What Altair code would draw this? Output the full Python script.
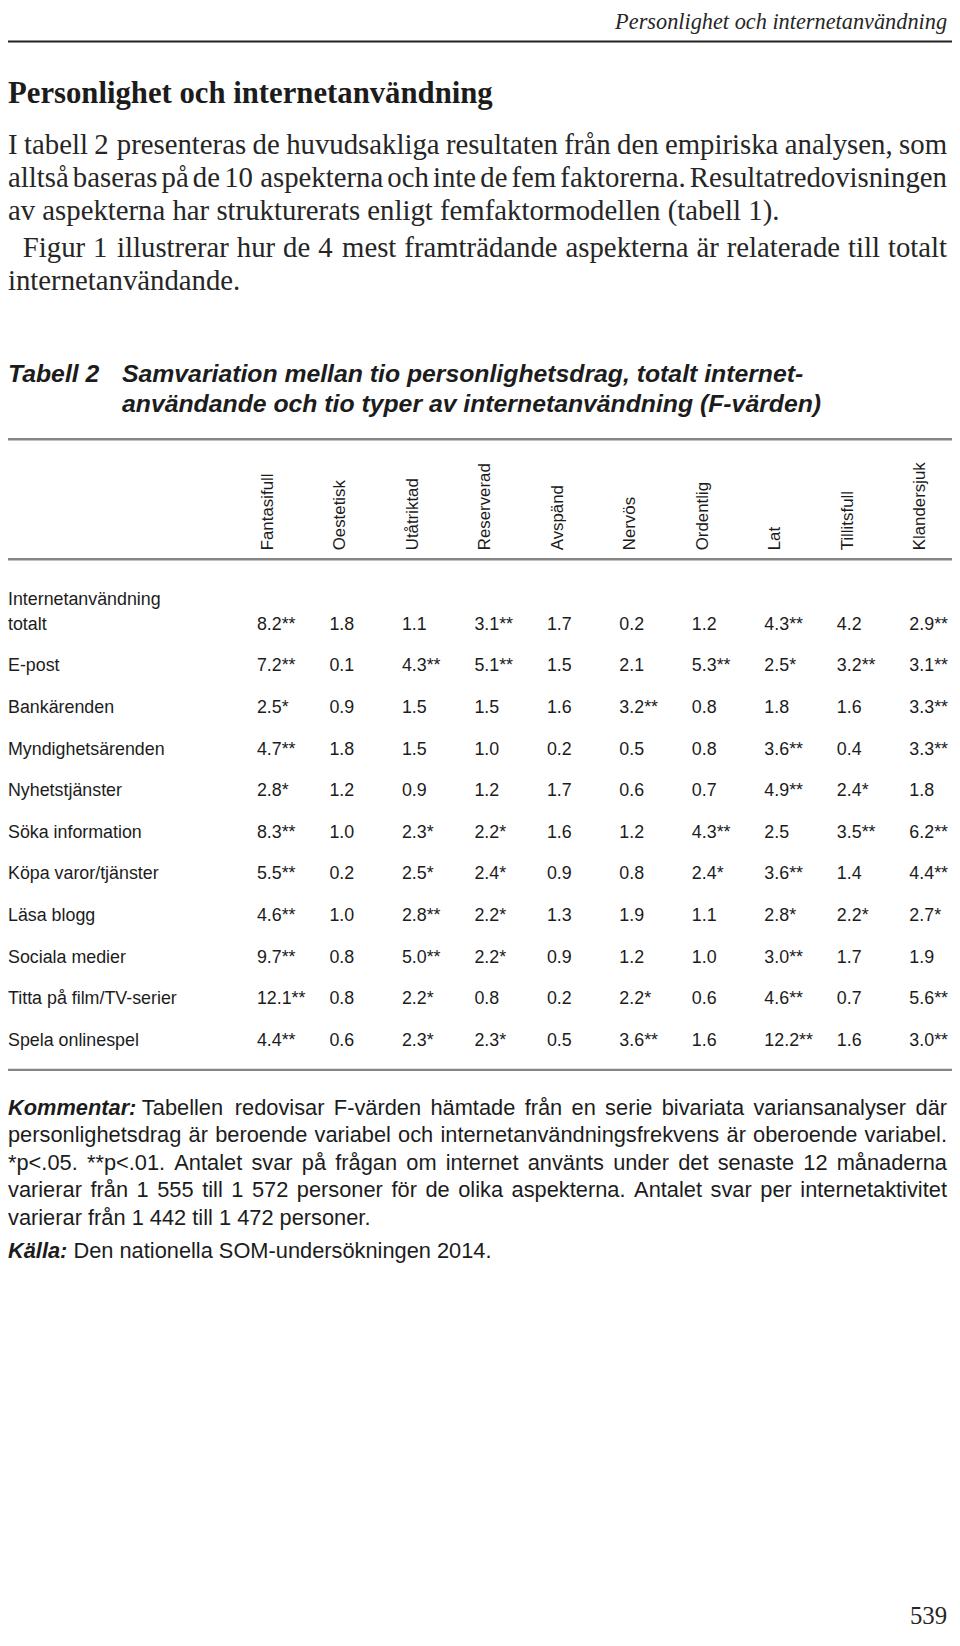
import altair as alt
import pandas as pd

# ------------------------------------------------------------------ data
running_head = "Personlighet och internetanvändning"
section_title = "Personlighet och internetanvändning"
body_lines = [
    "I tabell 2 presenteras de huvudsakliga resultaten från den empiriska analysen, som",
    "alltså baseras på de 10 aspekterna och inte de fem faktorerna. Resultatredovisningen",
    "av aspekterna har strukturerats enligt femfaktormodellen (tabell 1).",
    "Figur 1 illustrerar hur de 4 mest framträdande aspekterna är relaterade till totalt",
    "internetanvändande.",
]
table_label = ["Tabell 2"]
table_title = [
    "Samvariation mellan tio personlighetsdrag, totalt internet-",
    "användande och tio typer av internetanvändning (F-värden)",
]
traits = ["Fantasifull", "Oestetisk", "Utåtriktad", "Reserverad", "Avspänd",
          "Nervös", "Ordentlig", "Lat", "Tillitsfull", "Klandersjuk"]
usage_group = "Internetanvändning"
usages = ["totalt", "E-post", "Bankärenden", "Myndighetsärenden", "Nyhetstjänster",
          "Söka information", "Köpa varor/tjänster", "Läsa blogg", "Sociala medier",
          "Titta på film/TV-serier", "Spela onlinespel"]
# F-values, one list per internet use (columns follow `traits`)
f_values = [
    [8.2, 1.8, 1.1, 3.1, 1.7, 0.2, 1.2, 4.3, 4.2, 2.9],
    [7.2, 0.1, 4.3, 5.1, 1.5, 2.1, 5.3, 2.5, 3.2, 3.1],
    [2.5, 0.9, 1.5, 1.5, 1.6, 3.2, 0.8, 1.8, 1.6, 3.3],
    [4.7, 1.8, 1.5, 1.0, 0.2, 0.5, 0.8, 3.6, 0.4, 3.3],
    [2.8, 1.2, 0.9, 1.2, 1.7, 0.6, 0.7, 4.9, 2.4, 1.8],
    [8.3, 1.0, 2.3, 2.2, 1.6, 1.2, 4.3, 2.5, 3.5, 6.2],
    [5.5, 0.2, 2.5, 2.4, 0.9, 0.8, 2.4, 3.6, 1.4, 4.4],
    [4.6, 1.0, 2.8, 2.2, 1.3, 1.9, 1.1, 2.8, 2.2, 2.7],
    [9.7, 0.8, 5.0, 2.2, 0.9, 1.2, 1.0, 3.0, 1.7, 1.9],
    [12.1, 0.8, 2.2, 0.8, 0.2, 2.2, 0.6, 4.6, 0.7, 5.6],
    [4.4, 0.6, 2.3, 2.3, 0.5, 3.6, 1.6, 12.2, 1.6, 3.0],
]
# significance level: 0 = n.s., 1 = p<.05 (*), 2 = p<.01 (**)
significance = [
    [2, 0, 0, 2, 0, 0, 0, 2, 0, 2],
    [2, 0, 2, 2, 0, 0, 2, 1, 2, 2],
    [1, 0, 0, 0, 0, 2, 0, 0, 0, 2],
    [2, 0, 0, 0, 0, 0, 0, 2, 0, 2],
    [1, 0, 0, 0, 0, 0, 0, 2, 1, 0],
    [2, 0, 1, 1, 0, 0, 2, 0, 2, 2],
    [2, 0, 1, 1, 0, 0, 1, 2, 0, 2],
    [2, 0, 2, 1, 0, 0, 0, 1, 1, 1],
    [2, 0, 2, 1, 0, 0, 0, 2, 0, 0],
    [2, 0, 1, 0, 0, 1, 0, 2, 0, 2],
    [2, 0, 1, 1, 0, 2, 0, 2, 0, 2],
]
comment_lead = ["Kommentar:"]
comment_lines = [
    "Tabellen redovisar F-värden hämtade från en serie bivariata variansanalyser där",
    "personlighetsdrag är beroende variabel och internetanvändningsfrekvens är oberoende variabel.",
    "*p<.05. **p<.01. Antalet svar på frågan om internet använts under det senaste 12 månaderna",
    "varierar från 1 555 till 1 572 personer för de olika aspekterna. Antalet svar per internetaktivitet",
    "varierar från 1 442 till 1 472 personer.",
]
source_lead = ["Källa:"]
source_text = ["Den nationella SOM-undersökningen 2014."]
page_number = ["539"]

# ------------------------------------------------------------------ layout
W, H = 952, 1624
RIGHT = 947            # right margin of the text column
INK = "#1c1c1c"
BODY_INK = "#262626"
GRAY = "#858585"
SERIF = "Liberation Serif"
SANS = "Liberation Sans"

# advance widths (per em) of the metric-compatible Liberation fonts, used to justify prose
SERIF_W = {" ": .25, "a": .444, "b": .5, "c": .444, "d": .5, "e": .444, "f": .333, "g": .5,
           "h": .5, "i": .278, "j": .278, "k": .5, "l": .278, "m": .778, "n": .5, "o": .5,
           "p": .5, "q": .5, "r": .333, "s": .389, "t": .278, "u": .5, "v": .5, "w": .722,
           "x": .5, "y": .5, "z": .444, "å": .444, "ä": .444, "ö": .5, "I": .333, "F": .556,
           "R": .667, "T": .611, ".": .25, ",": .25, "(": .333, ")": .333, "-": .333}
SANS_W = {" ": .278, "a": .556, "b": .556, "c": .5, "d": .556, "e": .556, "f": .278, "g": .556,
          "h": .556, "i": .222, "j": .222, "k": .5, "l": .222, "m": .833, "n": .556, "o": .556,
          "p": .556, "q": .556, "r": .333, "s": .5, "t": .278, "u": .556, "v": .5, "w": .722,
          "x": .5, "y": .5, "z": .5, "å": .556, "ä": .556, "ö": .556, "A": .667, "F": .611,
          "K": .667, "S": .667, "O": .778, "M": .833, "T": .611, ".": .278, ",": .278,
          "*": .389, "<": .584, "-": .333, ":": .278, "/": .278}


def word_width(word, table, size):
    return sum(table.get(ch, .556 if ch.isdigit() else .5) for ch in word) * size


def justify(lines, table, size, lefts, justified):
    """Split lines into words and spread the words of justified lines to RIGHT."""
    recs = []
    for i, (line, left, just) in enumerate(zip(lines, lefts, justified)):
        words = line.split(" ")
        ww = [word_width(w, table, size) for w in words]
        if just and len(words) > 1:
            gap = (RIGHT - left - sum(ww)) / (len(words) - 1)
        else:
            gap = table[" "] * size
        x = left
        for w, wdt in zip(words, ww):
            recs.append({"i": i, "x": x, "t": w})
            x += wdt + gap
    return pd.DataFrame(recs)


def words_block(df, y0, step, color=INK, **mark):
    n = int(df["i"].max()) + 1
    span = max(n - 1, 1)
    return alt.Chart(df).mark_text(
        align="left", baseline="alphabetic", color=color, **mark
    ).encode(
        x=alt.X("x:Q", scale=None, axis=None),
        y=alt.Y("i:Q", axis=None,
                scale=alt.Scale(domain=[0, span], range=[y0, y0 + step * span],
                                nice=False, zero=False)),
        text="t:N",
    )


def text_block(lines, x, y0, step, color=INK, **mark):
    n = len(lines)
    span = max(n - 1, 1)
    df = pd.DataFrame({"i": list(range(n)), "t": lines})
    align = mark.pop("align", "left")
    return alt.Chart(df).mark_text(
        align=align, baseline="alphabetic", color=color, **mark
    ).encode(
        x=alt.value(x),
        y=alt.Y("i:Q", axis=None,
                scale=alt.Scale(domain=[0, span], range=[y0, y0 + step * span],
                                nice=False, zero=False)),
        text="t:N",
    )


def hrule(y, color, width):
    return alt.Chart(pd.DataFrame({"k": [0]})).mark_rule(
        color=color, strokeWidth=width
    ).encode(x=alt.value(0), x2=alt.value(W), y=alt.value(y))


# body paragraphs (justified like the printed page)
BODY_SIZE = 29
par1 = justify(body_lines[:3], SERIF_W, BODY_SIZE, [0, 0, 0], [True, True, False])
par2 = justify(body_lines[3:], SERIF_W, BODY_SIZE, [15, 0], [True, False])

COM_SIZE = 22
com1 = justify(comment_lines[:1], SANS_W, COM_SIZE, [135], [True])
com2 = justify(comment_lines[1:], SANS_W, COM_SIZE, [0, 0, 0, 0], [True, True, True, False])

# table data
rows = []
for r, use in enumerate(usages):
    for c, trait in enumerate(traits):
        v = f_values[r][c]
        s = significance[r][c]
        rows.append({"use": use, "trait": trait, "val": f"{v:.1f}" + "*" * s})
cells = pd.DataFrame(rows)

col_scale = alt.Scale(type="point", domain=traits, range=[251, 909], padding=0)
row_scale = alt.Scale(type="point", domain=usages, range=[620, 1040], padding=0)
TAB_SIZE = 18

values_layer = alt.Chart(cells).mark_text(
    align="left", baseline="alphabetic", font=SANS, fontSize=TAB_SIZE, color=INK
).encode(
    x=alt.X("trait:N", scale=col_scale, axis=None),
    y=alt.Y("use:N", scale=row_scale, axis=None),
    text="val:N",
)

header_layer = alt.Chart(pd.DataFrame({"trait": traits})).mark_text(
    align="left", baseline="top", angle=270, dy=3, font=SANS, fontSize=17, color=INK
).encode(
    x=alt.X("trait:N", scale=col_scale, axis=None),
    y=alt.value(540),
    text="trait:N",
)

rowlabel_layer = alt.Chart(pd.DataFrame({"use": usages})).mark_text(
    align="left", baseline="alphabetic", font=SANS, fontSize=TAB_SIZE, color=INK
).encode(
    x=alt.value(0),
    y=alt.Y("use:N", scale=row_scale, axis=None),
    text="use:N",
)

group_layer = alt.Chart(pd.DataFrame({"use": [usages[0]], "t": [usage_group]})).mark_text(
    align="left", baseline="alphabetic", dy=-25, font=SANS, fontSize=TAB_SIZE, color=INK
).encode(
    x=alt.value(0),
    y=alt.Y("use:N", scale=row_scale, axis=None),
    text="t:N",
)

table = alt.layer(header_layer, values_layer, rowlabel_layer, group_layer)

layers = [
    text_block([running_head], RIGHT, 14.5, 30, color=BODY_INK, font=SERIF, fontSize=22.5,
               fontStyle="italic", align="right"),
    hrule(27, "#222222", 2),
    text_block([section_title], 0, 89, 30, font=SERIF, fontSize=31, fontWeight="bold"),
    words_block(par1, 140, 33.7, color=BODY_INK, font=SERIF, fontSize=BODY_SIZE),
    words_block(par2, 244, 33.7, color=BODY_INK, font=SERIF, fontSize=BODY_SIZE),
    text_block(table_label, 0, 370, 31, font=SANS, fontSize=25,
               fontWeight="bold", fontStyle="italic"),
    text_block(table_title, 115, 370, 31, font=SANS, fontSize=25,
               fontWeight="bold", fontStyle="italic"),
    hrule(428, GRAY, 2.5),
    hrule(549, GRAY, 2.5),
    table,
    hrule(1064, GRAY, 2.5),
    text_block(comment_lead, 0, 1109, 27.8, font=SANS, fontSize=COM_SIZE,
               fontWeight="bold", fontStyle="italic"),
    words_block(com1, 1109, 27.8, font=SANS, fontSize=COM_SIZE),
    words_block(com2, 1136.8, 27.8, font=SANS, fontSize=COM_SIZE),
    text_block(source_lead, 0, 1254, 27.8, font=SANS, fontSize=COM_SIZE,
               fontWeight="bold", fontStyle="italic"),
    text_block(source_text, 66, 1254, 27.8, font=SANS, fontSize=COM_SIZE),
    text_block(page_number, RIGHT, 1623, 30, color=BODY_INK, font=SERIF, fontSize=25,
               align="right"),
]

chart = alt.layer(*layers).resolve_scale(x="independent", y="independent").properties(
    width=W, height=H, padding=0, background="white",
    autosize=alt.AutoSizeParams(type="none"),
).configure_view(stroke=None)

chart.save("out.html", embed_options={"renderer": "svg", "actions": False})
